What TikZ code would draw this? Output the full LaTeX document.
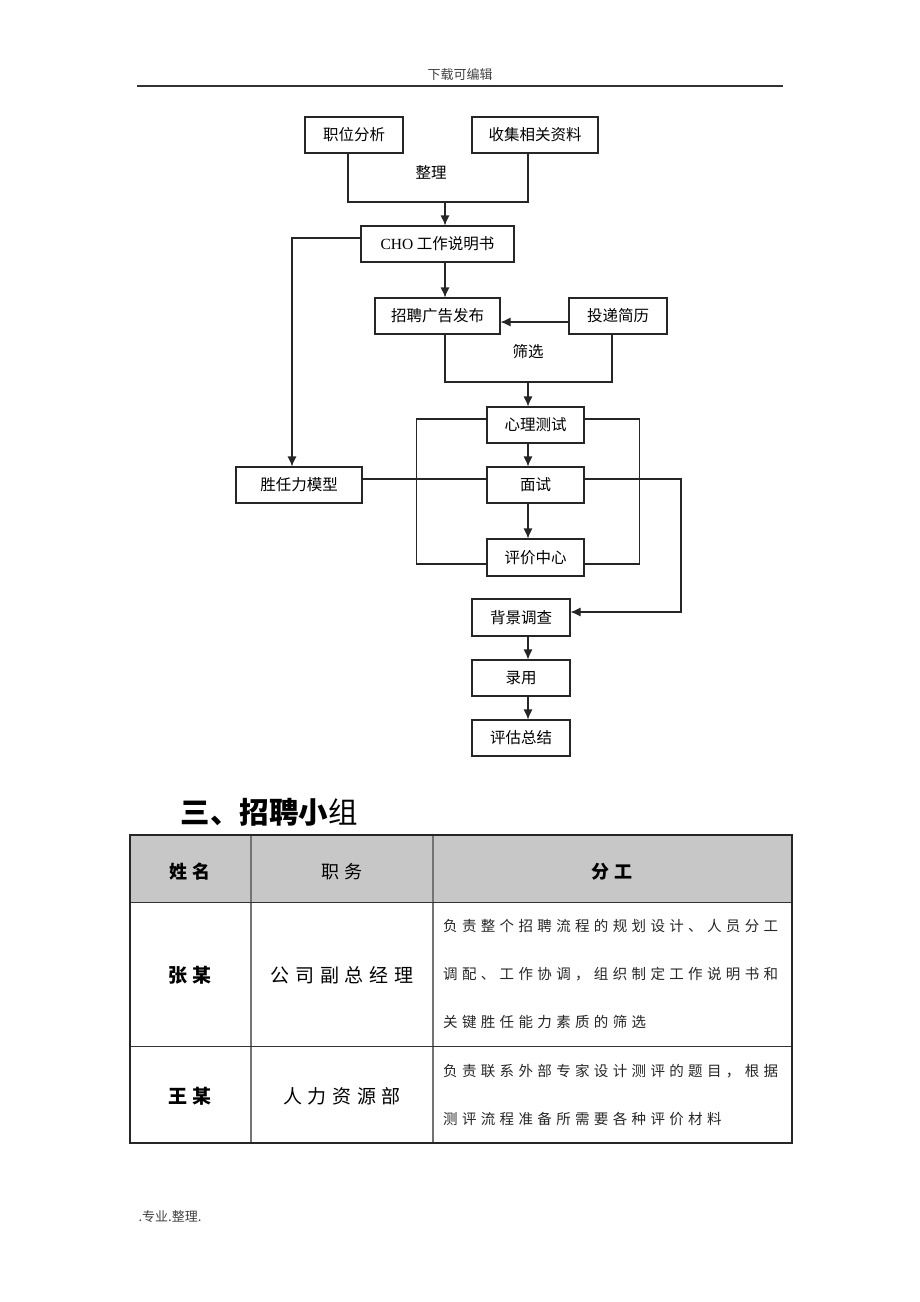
\documentclass[tikz,border=0pt]{standalone}
\usepackage{fontspec}
\setmainfont{Liberation Serif}
\newfontfamily\cjk{Noto Sans CJK SC}
\newfontfamily\cjkwide[LetterSpace=30]{Noto Sans CJK SC}
\usetikzlibrary{arrows.meta,positioning}

\tikzset{
  box/.style={draw=black!85, line width=1.1pt, inner sep=0pt, minimum height=36pt,
    font=\cjk\fontsize{15.5}{18}\selectfont},
  note/.style={font=\cjk\fontsize{15.5}{18}\selectfont},
  link/.style={draw=black!85, line width=1.1pt},
  arr/.style={-{Latex[length=10pt,width=9pt]}},
  cell/.style={font=\cjkwide\fontsize{19}{22}\selectfont},
  duty/.style={anchor=west, inner sep=0pt, text=black!85, font=\cjkwide\fontsize{14.5}{16}\selectfont},
}

\begin{document}
\begin{tikzpicture}[x=1pt,y=-1pt]
\useasboundingbox (0,0) rectangle (920,1302);
% page head and foot
\node[font=\cjk\fontsize{13}{15}\selectfont, text=black!75] (head) at (460,75) {下载可编辑};
\draw[line width=1.2pt, black!80] (137,86) -- (783,86);
\node[anchor=west, font=\cjk\fontsize{13}{15}\selectfont, text=black!75] (foot) at (135,1217) {.专业.整理.};

% flow chart
\node[box, minimum width=98pt] (job) at (354,135) {职位分析};
\node[box, minimum width=126pt] (collect) at (535,135) {收集相关资料};
\node[note] (tidy) at (431,172) {整理};
\node[box, minimum width=153pt] (cho) at (437.5,244) {\textrm{CHO} 工作说明书};
\node[box, minimum width=125pt] (ad) at (437.5,316) {招聘广告发布};
\node[box, minimum width=98pt] (cv) at (618,316) {投递简历};
\node[note] (screen) at (528,352) {筛选};
\node[box, minimum width=97pt] (psy) at (535.5,425) {心理测试};
\node[box, minimum width=97pt] (talk) at (535.5,485) {面试};
\node[box, minimum width=97pt, minimum height=37pt] (ac) at (535.5,557.5) {评价中心};
\node[box, minimum width=126pt] (model) at (299,485) {胜任力模型};
\node[box, minimum width=98pt, minimum height=37pt] (check) at (521,617.5) {背景调查};
\node[box, minimum width=98pt] (hire) at (521,678) {录用};
\node[box, minimum width=98pt] (sum) at (521,738) {评估总结};

\coordinate (join1) at (445,202);
\coordinate (join2) at (528,382);
\coordinate (turn) at (681,612);

\draw[link] ([xshift=-6pt]job.south) |- (join1) -| ([xshift=-7pt]collect.south);
\draw[link,arr] (join1) -- (join1 |- cho.north);
\draw[link,arr] (cho.south -| join1) -- (ad.north -| join1);
\draw[link,arr] ([yshift=6pt]cho.west) -| ([xshift=-7pt]model.north);
\draw[link,arr] ([yshift=-6pt]cv.west) -- ([yshift=-6pt]ad.east);
\draw[link] (ad.south -| join1) |- (join2) -| ([xshift=-6pt]cv.south);
\draw[link,arr] (join2) -- (join2 |- psy.north);
\draw[link,arr] (psy.south -| join2) -- (talk.north -| join2);
\draw[link,arr] (talk.south -| join2) -- (ac.north -| join2);
\draw[link] ([yshift=6pt]psy.west) -- ++(-70,0) |- ([yshift=-6.5pt]ac.west);
\draw[link] ([yshift=6pt]psy.east) -- ++(55,0) |- ([yshift=-6.5pt]ac.east);
\draw[link] ([yshift=6pt]model.east) -- ([yshift=6pt]talk.west);
\draw[link,arr] ([yshift=6pt]talk.east) -| (turn) -- (turn -| check.east);
\draw[link,arr] (check.south -| join2) -- (hire.north -| join2);
\draw[link,arr] (hire.south -| join2) -- (sum.north -| join2);

% team table
\node[anchor=west, font=\cjk\bfseries\fontsize{29.5}{32}\selectfont] (title) at (177,812) {三、招聘小{\mdseries 组}};
\fill[black!22] (130,835) rectangle (792,902);
\draw[line width=1.1pt, black!55] (251,835) -- (251,1143) (433,835) -- (433,1143);
\draw[line width=1pt, black!80] (130,902) -- (792,902) (130,1046) -- (792,1046);
\draw[line width=1.4pt, black!85] (130,835) rectangle (792,1143);

\node[cell, font=\cjkwide\bfseries\fontsize{18}{20}\selectfont] (hname) at (190,872) {姓名};
\node[cell, font=\cjkwide\fontsize{18}{20}\selectfont] (hpost) at (342,872) {职务};
\node[cell, font=\cjkwide\bfseries\fontsize{18}{20}\selectfont] (hduty) at (612,872) {分工};
\node[cell, font=\cjkwide\bfseries\fontsize{19}{22}\selectfont] (zhang) at (190,975) {张某};
\node[cell] (zpost) at (342,975) {公司副总经理};
\node[cell, font=\cjkwide\bfseries\fontsize{19}{22}\selectfont] (wang) at (190,1096) {王某};
\node[cell] (wpost) at (342,1096) {人力资源部};
\foreach \y/\t in {926/负责整个招聘流程的规划设计、人员分工,
                   974/调配、工作协调，组织制定工作说明书和,
                   1022/关键胜任能力素质的筛选,
                   1071/负责联系外部专家设计测评的题目，根据,
                   1119/测评流程准备所需要各种评价材料}
  \node[duty] (duty\y) at (443,\y) {\t};
\end{tikzpicture}
\end{document}
